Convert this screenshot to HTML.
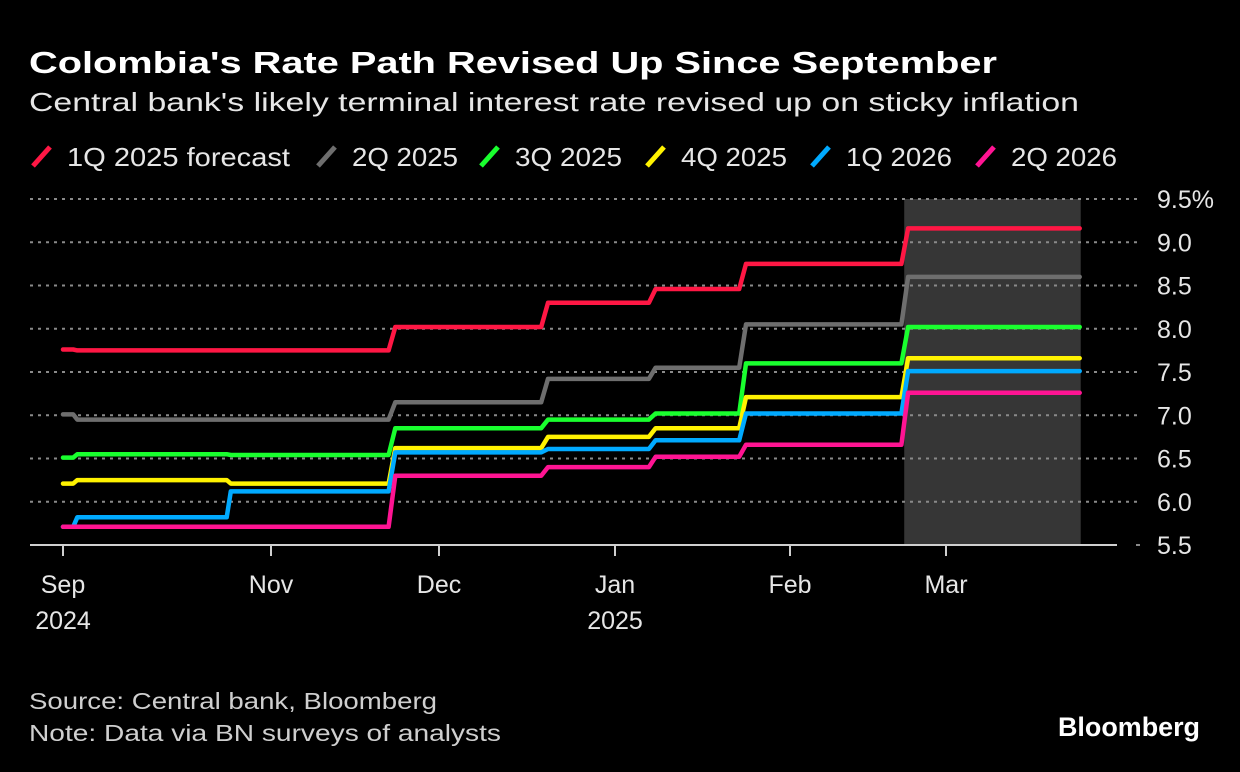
<!DOCTYPE html>
<html><head><meta charset="utf-8"><style>
html,body{margin:0;padding:0;background:#000;}
svg{display:block;font-family:"Liberation Sans","DejaVu Sans",sans-serif;}
</style></head><body>
<svg id="chart" width="1240" height="772" viewBox="0 0 1240 772">
<rect x="0" y="0" width="1240" height="772" fill="#000"/>
<text x="29" y="73" fill="#fff" font-size="31" font-weight="bold" textLength="968" lengthAdjust="spacingAndGlyphs">Colombia's Rate Path Revised Up Since September</text>
<text x="29" y="111" fill="#e6e6e6" font-size="26" textLength="1050" lengthAdjust="spacingAndGlyphs">Central bank's likely terminal interest rate revised up on sticky inflation</text>
<g id="legend"></g>
<rect id="shade" fill="#363636"/>
<g id="grid"></g>
<g id="xaxis"></g>
<g id="series"></g>
<text x="29" y="709" fill="#cfcfcf" font-size="23" textLength="408" lengthAdjust="spacingAndGlyphs">Source: Central bank, Bloomberg</text>
<text x="29" y="741" fill="#cfcfcf" font-size="23" textLength="472" lengthAdjust="spacingAndGlyphs">Note: Data via BN surveys of analysts</text>
<text x="1200" y="736" fill="#fff" font-size="27" font-weight="bold" text-anchor="end" textLength="142" lengthAdjust="spacingAndGlyphs">Bloomberg</text>
</svg>
<script>
// days since Sep 1 2024
const stepDays = [0, 3, 48, 82, 109, 128, 144, 173];
const endDay = 205;
const shadeStartDay = 173.5;
const seriesNames = ["1Q 2025 forecast","2Q 2025","3Q 2025","4Q 2025","1Q 2026","2Q 2026"];
const seriesColors = ["#ff1744","#6e6e6e","#19ff2e","#fff200","#00aaff","#ff1493"];
const red    = [7.76, 7.75, 7.75, 8.02, 8.30, 8.46, 8.75, 9.16];
const gray   = [7.01, 6.95, 6.95, 7.15, 7.42, 7.55, 8.05, 8.60];
const green  = [6.51, 6.55, 6.54, 6.85, 6.95, 7.02, 7.60, 8.02];
const yellow = [6.21, 6.25, 6.21, 6.62, 6.75, 6.85, 7.21, 7.66];
const blue   = [5.71, 5.82, 6.12, 6.57, 6.61, 6.71, 7.02, 7.51];
const pink   = [5.71, 5.71, 5.71, 6.30, 6.40, 6.52, 6.66, 7.26];
const seriesValues = [red, gray, green, yellow, blue, pink];
const yTicks = [5.5, 6.0, 6.5, 7.0, 7.5, 8.0, 8.5, 9.0, 9.5];
const yTickLabels = ["5.5","6.0","6.5","7.0","7.5","8.0","8.5","9.0","9.5%"];
const monthDays = [0, 61, 91, 122, 153, 181];
const monthLabels = ["Sep","Nov","Dec","Jan","Feb","Mar"];
const yearLabels = ["2024","","","2025","",""];

const NS = "http://www.w3.org/2000/svg";
const monthPx = [63, 271, 439, 615, 790, 946];
function xScale(d){
  let i = 0;
  while (i < monthDays.length - 2 && d > monthDays[i+1]) i++;
  const d0 = monthDays[i], d1 = monthDays[i+1], p0 = monthPx[i], p1 = monthPx[i+1];
  return p0 + (d - d0) / (d1 - d0) * (p1 - p0);
}
function yScale(v){ return 545 - (v - 5.5) * 86.5; }
function mk(tag, attrs, parent){
  const e = document.createElementNS(NS, tag);
  for (const k in attrs) e.setAttribute(k, attrs[k]);
  parent.appendChild(e); return e;
}

// shade
const sh = document.getElementById('shade');
sh.setAttribute('x', xScale(shadeStartDay));
sh.setAttribute('y', yScale(9.5));
sh.setAttribute('width', xScale(endDay) - xScale(shadeStartDay) + 1);
sh.setAttribute('height', yScale(5.5) - yScale(9.5));

// grid + y labels
const grid = document.getElementById('grid');
yTicks.forEach((t, i) => {
  if (i > 0) {
    const l = mk('line', {x1: 30, x2: 1140, y1: yScale(t), y2: yScale(t), stroke: '#8a8a8a', 'stroke-width': 2, 'stroke-dasharray': '3 5'}, grid);
    
    
  } else {
    const l = mk('line', {x1: 1136, x2: 1140, y1: yScale(t), y2: yScale(t), stroke: '#8a8a8a', 'stroke-width': 2}, grid);
    
    
  }
  const tx = mk('text', {x: 1157, y: yScale(t) + 9, fill: '#e6e6e6', 'font-size': 25}, grid);
  tx.textContent = yTickLabels[i];
  
  
});

// x axis
const xa = document.getElementById('xaxis');
const ax = mk('line', {x1: 30, x2: 1117, y1: 545, y2: 545, stroke: '#cfcfcf', 'stroke-width': 2}, xa);


monthDays.forEach((d, i) => {
  const x = xScale(d);
  const tk = mk('line', {x1: x, x2: x, y1: 545, y2: 556, stroke: '#cfcfcf', 'stroke-width': 2}, xa);
  
  
  const t = mk('text', {x: x, y: 593, fill: '#e6e6e6', 'font-size': 25, 'text-anchor': 'middle'}, xa);
  t.textContent = monthLabels[i];
  
  
  if (yearLabels[i]) {
    const y = mk('text', {x: x, y: 629, fill: '#e6e6e6', 'font-size': 25, 'text-anchor': 'middle'}, xa);
    y.textContent = yearLabels[i];
    
    
  }
});

// series
const sg = document.getElementById('series');
seriesValues.forEach((vals, s) => {
  let pts = [];
  for (let i = 0; i < stepDays.length; i++) {
    const start = stepDays[i] + (i === 0 ? 0 : 1.2);
    const end = i < stepDays.length - 1 ? stepDays[i+1] : endDay;
    pts.push(xScale(start).toFixed(1) + ',' + yScale(vals[i]).toFixed(1));
    pts.push(xScale(end).toFixed(1) + ',' + yScale(vals[i]).toFixed(1));
  }
  const p = mk('polyline', {points: pts.join(' '), fill: 'none', stroke: seriesColors[s], 'stroke-width': 4.5, 'stroke-linejoin': 'round', 'stroke-linecap': 'round'}, sg);
  
  
});

// legend
const lg = document.getElementById('legend');
const legMarkX = [31, 316, 479, 645, 810, 975];
const legTextW = [223, 106, 107, 106, 106, 106];
seriesNames.forEach((n, i) => {
  const m = mk('line', {x1: legMarkX[i] + 2, y1: 166, x2: legMarkX[i] + 19, y2: 147, stroke: seriesColors[i], 'stroke-width': 5}, lg);
  
  
  const t = mk('text', {x: legMarkX[i] + 36, y: 166, fill: '#e6e6e6', 'font-size': 26, textLength: legTextW[i], lengthAdjust: 'spacingAndGlyphs'}, lg);
  t.textContent = n;
  
  
});
</script>
</body></html>
